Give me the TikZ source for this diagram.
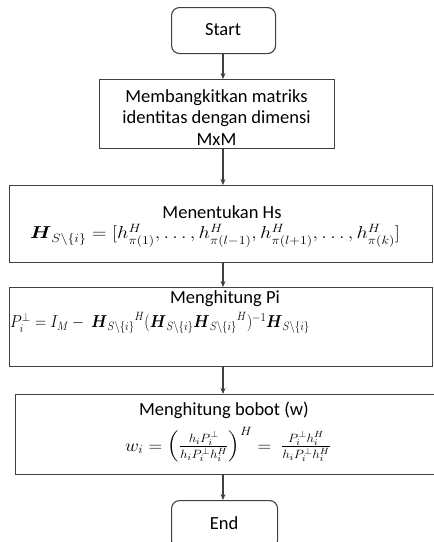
\documentclass[tikz,border=0pt]{standalone}
\usepackage{amsmath}
\usepackage{graphicx}
\usepackage{fontspec}
\setmainfont{Carlito}
\usetikzlibrary{arrows.meta}
\definecolor{linegray}{HTML}{404040}
\newcommand{\Hs}{\boldsymbol{H}_{S\backslash\{i\}}}
\begin{document}
\begin{tikzpicture}[x=1pt,y=-1pt,
  box/.style={draw=linegray, line width=1.1pt, inner sep=0pt, anchor=north west},
  term/.style={box, rounded corners=8pt},
  txt/.style={inner sep=0pt, font=\fontsize{18.5}{21.5}\selectfont, align=center},
  mth/.style={inner sep=0pt, font=\fontsize{18}{21}\selectfont},
  arr/.style={draw=linegray, line width=1.1pt, -{Stealth[length=6pt,width=5pt]}}]
\useasboundingbox (0,0) rectangle (434,542);
\coordinate (ax) at (223,0);
% boxes
\node[term, minimum width=104pt, minimum height=46pt] (start) at (171,7) {};
\node[box, minimum width=235pt, minimum height=69pt] (b2) at (99,79) {};
\node[box, minimum width=423pt, minimum height=77pt] (b3) at (9,185) {};
\node[box, minimum width=423pt, minimum height=79pt] (b4) at (9,287) {};
\node[box, minimum width=425pt, minimum height=80pt] (b5) at (15,394) {};
\node[term, minimum width=106pt, minimum height=48pt] (end) at (171,500) {};
% texts
\node[txt] (tstart) at (223,30) {Start};
\node[txt] (t2) at (216.5,117.5) {Membangkitkan matriks\\identitas dengan dimensi\\MxM};
\node[txt] (t3a) at (222,212) {Menentukan Hs};
\node[mth] (t3b) at (215,236) {\scalebox{1.16}[1]{$\Hs = [h^H_{\pi(1)}, \dots, h^H_{\pi(l-1)}, h^H_{\pi(l+1)}, \dots, h^H_{\pi(k)}]$}};
\node[txt] (t4a) at (225,299) {Menghitung Pi};
\node[mth, anchor=west] (t4b) at (10,323) {\scalebox{0.89}[1]{$P_i^{\perp} = I_M -\ {\Hs}^{H} (\Hs {\Hs}^{H})^{-1} \Hs$}};
\node[txt] (t5a) at (224,410) {Menghitung bobot (w)};
\node[mth] (t5b) at (228,445) {\scalebox{1.1}[1]{$w_i = \left(\frac{h_i P_i^{\perp}}{h_i P_i^{\perp} h_i^H}\right)^{H} =\ \frac{P_i^{\perp} h_i^H}{h_i P_i^{\perp} h_i^H}$}};
\node[txt] (tend) at (224,523) {End};
% connectors
\draw[arr] (start.south -| ax) -- (b2.north -| ax);
\draw[arr] (b2.south -| ax) -- (b3.north -| ax);
\draw[arr] (b3.south -| ax) -- (b4.north -| ax);
\draw[arr] (b4.south -| ax) -- (b5.north -| ax);
\draw[arr] (b5.south -| ax) -- (end.north -| ax);
\end{tikzpicture}
\end{document}
